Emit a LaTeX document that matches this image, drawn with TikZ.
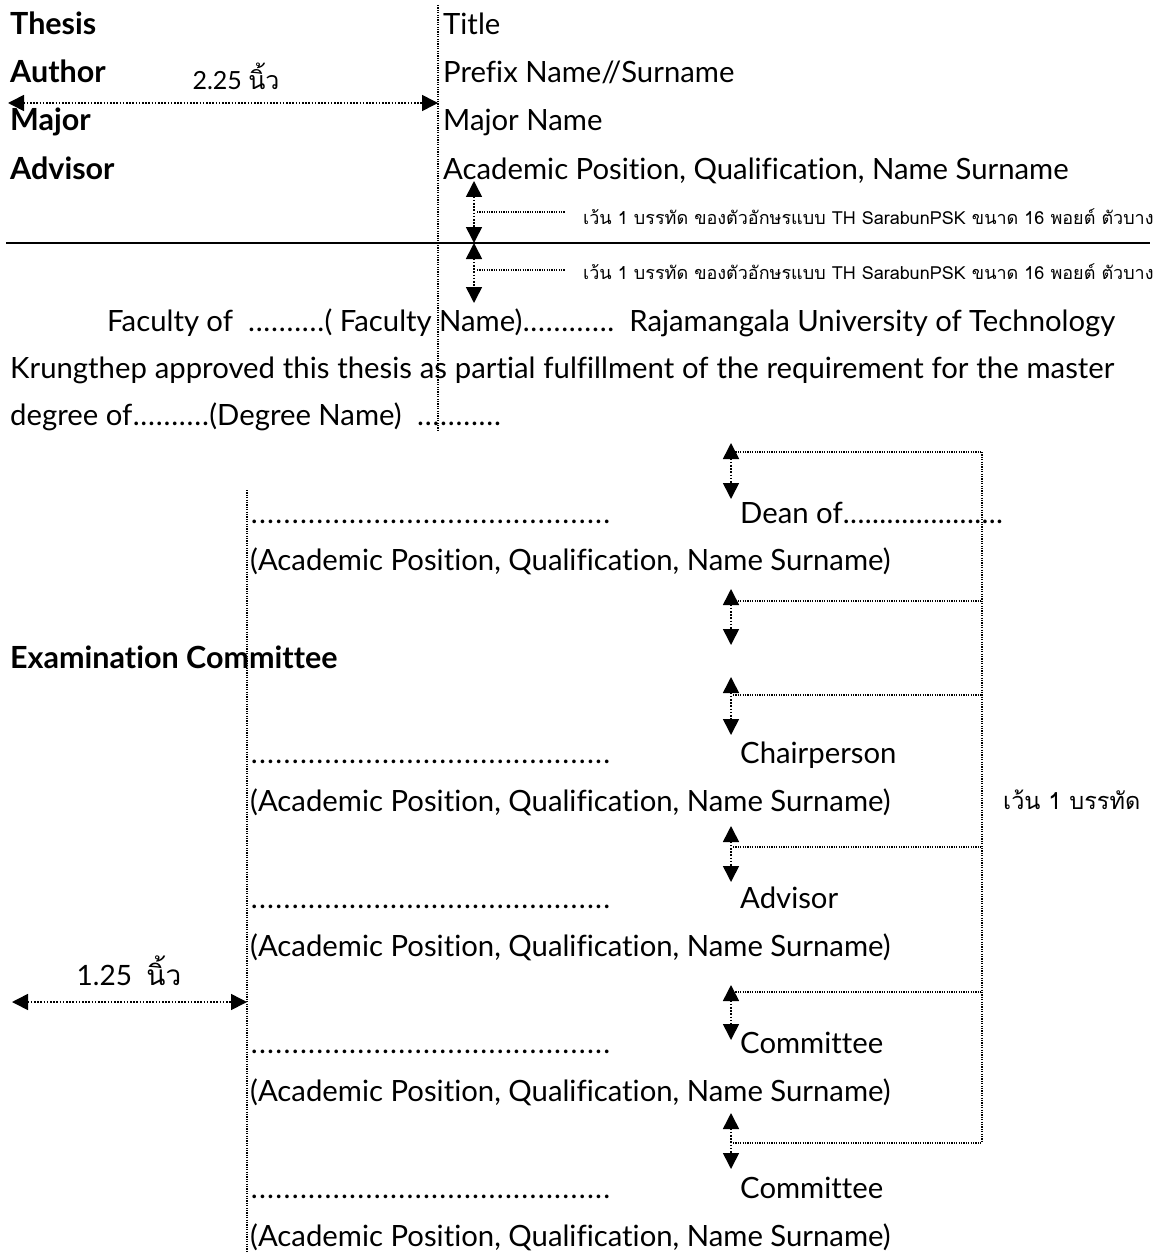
\documentclass[tikz,border=0pt]{standalone}
\usepackage{fontspec}
\setmainfont{Lato}[Ligatures={NoCommon,NoRare}]
\newfontfamily\thai[Script=Thai]{Loma}
\usetikzlibrary{arrows.meta}
\ExplSyntaxOn
\NewDocumentCommand\dotsw{mm}{\prg_replicate:nn{#1}{\hbox_to_wd:nn{#2}{\hss.\hss}}}
\ExplSyntaxOff
\begin{document}
\begin{tikzpicture}[x=1pt,y=-1pt,
  txt/.style={anchor=base west, inner sep=0pt, font=\fontsize{29.3}{34}\selectfont},
  lbl/.style={anchor=base west, inner sep=0pt, font=\fontsize{30.5}{34}\selectfont\bfseries},
  note/.style={anchor=base west, inner sep=0pt, font=\thai\fontsize{18}{22}\selectfont},
  dimlbl/.style={anchor=base, inner sep=0pt, font=\fontsize{25}{28}\selectfont},
  guide/.style={line width=1.2pt, dash pattern=on 1.2pt off 1.2pt},
  dotl/.style={line width=1.6pt, dash pattern=on 1.6pt off 1.6pt},
  dbl/.style={dotl, {Triangle[width=16pt,length=16pt]}-{Triangle[width=16pt,length=16pt]}},
]
\useasboundingbox (0,0) rectangle (1173,1252);

% guide verticals
\coordinate (g1t) at (438,5);
\coordinate (g1b) at (438,430);
\draw[guide] (g1t) -- (g1b);
\coordinate (g2t) at (247,490);
\coordinate (g2b) at (247,1252);
\draw[guide] (g2t) -- (g2b);

% header labels
\node[lbl] (thesis) at (10,35) {Thesis};
\node[lbl] (author) at (10,83) {Author};
\node[lbl] (major) at (10,131) {Major};
\node[lbl] (advisor) at (10,180) {Advisor};
\node[txt] (title) at (443,35) {Title};
\node[txt] (name) at (443,83) {Prefix Name//Surname};
\node[txt] (majname) at (443,131) {Major Name};
\node[txt] (advname) at (443,180) {Academic Position, Qualification, Name Surname};

% 2.25 inch
\coordinate (w1l) at (8,103);
\coordinate (w1r) at (438,103);
\draw[dbl] (w1l) -- (w1r);
\node[dimlbl] (w1lbl) at (236,90) {2.25 {\thai นิ้ว}};

% rule
\coordinate (rl) at (6,243);
\coordinate (rr) at (1150,243);
\draw[line width=2.4pt] (rl) -- (rr);

% spacing arrows near rule
\coordinate (a1t) at (474,181);
\coordinate (a1b) at (474,243);
\coordinate (a2t) at (474,243);
\coordinate (a2b) at (474,303);
\draw[dbl] (a1t) -- (a1b);
\draw[dbl] (a2t) -- (a2b);
\node[note] (n1) at (583,224) {เว้น 1 บรรทัด ของตัวอักษรแบบ TH SarabunPSK ขนาด 16 พอยต์ ตัวบาง};
\node[note] (n2) at (583,279) {เว้น 1 บรรทัด ของตัวอักษรแบบ TH SarabunPSK ขนาด 16 พอยต์ ตัวบาง};
\coordinate (l1) at (477,212);
\coordinate (l1e) at (565,212);
\coordinate (l2) at (477,270);
\coordinate (l2e) at (565,270);
\draw[guide] (l1) -- (l1e);
\draw[guide] (l2) -- (l2e);

% paragraph
\node[txt] (p1) at (107,331) {\makebox[1008pt][s]{Faculty of\ \ \dotsw{10}{7.7pt}(\ Faculty Name)\dotsw{12}{7.7pt}\ \ Rajamangala University of Technology}};
\node[txt] (p2) at (10,378) {\makebox[1104pt][s]{Krungthep approved this thesis as partial fulfillment of the requirement for the master}};
\node[txt] (p3) at (10,425) {degree of\dotsw{10}{7.7pt}(Degree Name)\ \ \dotsw{11}{7.7pt}};

% signature blocks
\node[txt] (s1) at (250,523) {\dotsw{44}{8.2pt}};
\node[txt] (r1) at (740,523) {Dean of\dotsw{22}{7.3pt}};
\node[txt] (q1) at (250,570) {(Academic Position, Qualification, Name Surname)};

\node[lbl] (exam) at (10,668) {Examination Committee};

\node[txt] (s2) at (250,763) {\dotsw{44}{8.2pt}};
\node[txt] (r2) at (740,763) {Chairperson};
\node[txt] (q2) at (250,811) {(Academic Position, Qualification, Name Surname)};

\node[txt] (s3) at (250,908) {\dotsw{44}{8.2pt}};
\node[txt] (r3) at (740,908) {Advisor};
\node[txt] (q3) at (250,956) {(Academic Position, Qualification, Name Surname)};

\node[txt] (s4) at (250,1053) {\dotsw{44}{8.2pt}};
\node[txt] (r4) at (740,1053) {Committee};
\node[txt] (q4) at (250,1101) {(Academic Position, Qualification, Name Surname)};

\node[txt] (s5) at (250,1198) {\dotsw{44}{8.2pt}};
\node[txt] (r5) at (740,1198) {Committee};
\node[txt] (q5) at (250,1246) {(Academic Position, Qualification, Name Surname)};

% right bracket
\coordinate (bt) at (982,452);
\coordinate (bb) at (982,1143);
\draw[guide] (bt) -- (bb);
\foreach \i/\yh/\yt/\yb in {1/452/443/499, 2/601/589/645, 3/695/677/735, 4/847/826/882, 5/992/985/1040, 6/1143/1113/1169} {
  \coordinate (h\i l) at (733,\yh);
  \coordinate (h\i r) at (982,\yh);
  \draw[guide] (h\i l) -- (h\i r);
  \coordinate (v\i t) at (731,\yt);
  \coordinate (v\i b) at (731,\yb);
  \draw[dbl] (v\i t) -- (v\i b);
}
\node[anchor=base west, inner sep=0pt, font=\thai\fontsize{23.5}{26}\selectfont] (gap) at (1003,809) {เว้น 1 บรรทัด};

% 1.25 inch
\coordinate (w2l) at (12,1002);
\coordinate (w2r) at (247,1002);
\draw[dbl] (w2l) -- (w2r);
\node[dimlbl, font=\fontsize{28}{30}\selectfont] (w2lbl) at (129,985) {1.25\ \ {\thai นิ้ว}};
\end{tikzpicture}
\end{document}
